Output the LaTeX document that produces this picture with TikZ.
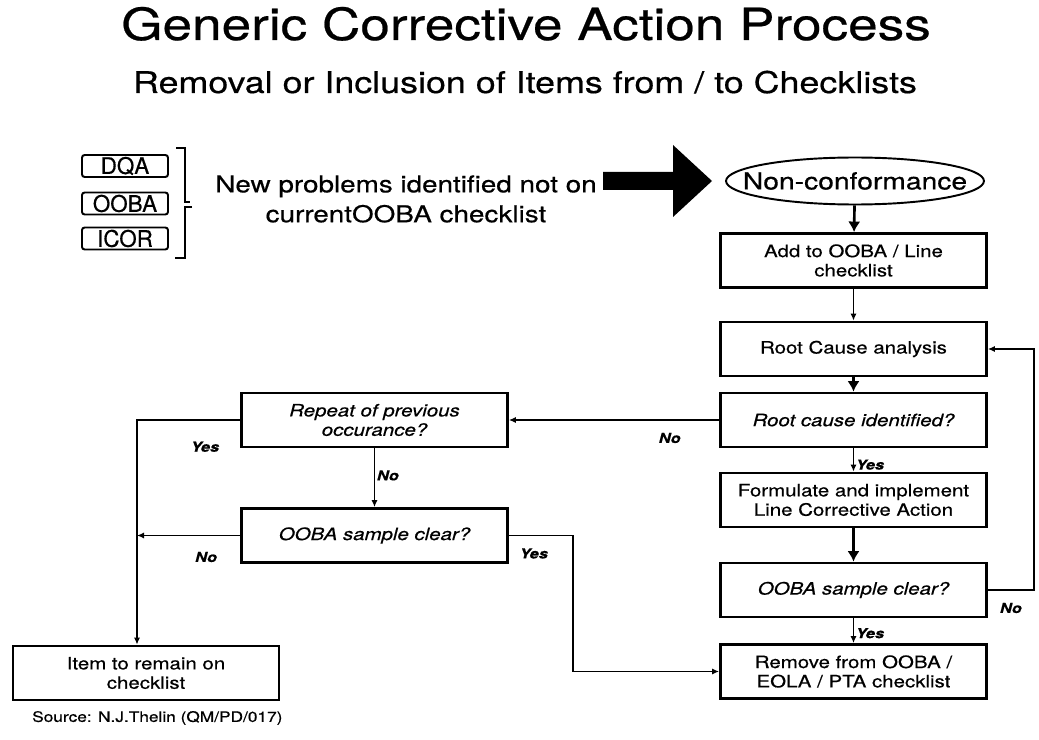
\documentclass[tikz,border=0pt]{standalone}
\usepackage{fontspec}
\setmainfont{TeX Gyre Heros}[FakeStretch=1.2, FakeBold=0.5]
\newfontfamily\tagfont{TeX Gyre Heros}[FakeStretch=0.98, FakeBold=0.5]
\usetikzlibrary{arrows.meta, shapes.geometric}

\tikzset{
  stepbox/.style={draw, line width=1.6pt, minimum width=5.32cm, minimum height=1.08cm,
    align=center, inner sep=2pt, font=\fontsize{9.7}{11}\selectfont},
  askbox/.style={stepbox, font=\fontsize{9.7}{11}\selectfont\itshape},
  tagbox/.style={draw, line width=1.1pt, rounded corners=1.5pt, minimum width=1.72cm,
    minimum height=0.44cm, inner sep=0pt, font=\tagfont\fontsize{13}{13}\selectfont},
  conn/.style={line width=0.75pt, -{Latex[length=4pt,width=3.5pt]}},
  bigconn/.style={line width=1.5pt, -{Latex[length=6pt,width=7pt]}},
  answer/.style={font=\fontsize{7.8}{9}\selectfont\bfseries\itshape, inner sep=1pt},
}

\begin{document}
\begin{tikzpicture}[x=0.02cm, y=-0.02cm]
    \useasboundingbox (0,0) rectangle (1039,740);
    % Titel
    \node[anchor=base, font=\fontsize{25.2}{28}\selectfont] (title) at (526,40) {Generic Corrective Action Process};
    \node[anchor=base, font=\fontsize{17}{19}\selectfont] (subtitle) at (525,93) {Removal or Inclusion of Items from / to Checklists};

    % Quellen
    \node[tagbox] (dqa) at (125,166) {DQA};
    \node[tagbox] (ooba) at (125,203.5) {OOBA};
    \node[tagbox] (icor) at (125,238.5) {ICOR};
    \draw[line width=0.7pt] (176,148) -- (185,148) -- (185,202) -- (190,202);
    \draw[line width=0.7pt] (192,207) -- (185,207) -- (185,258) -- (175,258);
    \node[align=center, font=\fontsize{13.2}{17}\selectfont] (newprob) at (406,199) {New problems identified not on\\currentOOBA checklist};
    \fill (603,172) -- (673,172) -- (673,145) -- (712,181) -- (673,217) -- (673,190) -- (603,190) -- cycle;

    % rechte Spalte
    \node[ellipse, draw, line width=1.1pt, minimum width=5.16cm, minimum height=0.94cm, inner sep=0pt,
        font=\fontsize{13.4}{16}\selectfont] (nc) at (855,181) {\makebox[0pt]{Non-conformance}};
    \node[stepbox] (add) at (853.5,260.5) {Add to OOBA / Line\\checklist};
    \node[stepbox] (rca) at (853.5,349) {Root Cause analysis};
    \node[askbox] (rci) at (853.5,420) {Root cause identified?};
    \node[stepbox] (form) at (853.5,500) {Formulate and implement\\Line Corrective Action};
    \node[askbox] (oobr) at (853.5,590) {OOBA sample clear?};
    \node[stepbox] (remove) at (853.5,671.5) {Remove from OOBA /\\EOLA / PTA checklist};

    % linke Spalte
    \node[askbox] (rep) at (374.5,420) {Repeat of previous\\occurance?};
    \node[askbox] (oobl) at (374.5,535.5) {OOBA sample clear?};
    \node[stepbox] (item) at (146,673) {Item to remain on\\checklist};
    \coordinate (rail) at (137,535.5);

    % Verbindungen
    \draw[bigconn] (nc) -- (add);
    \draw[conn] (add) -- (rca);
    \draw[bigconn] (rca) -- (rci);
    \draw[conn] (rci) -- node[answer, anchor=west, pos=0.7] {Yes} (form);
    \draw[bigconn] (form) -- (oobr);
    \draw[conn] (oobr) -- node[answer, anchor=west, pos=0.6] {Yes} (remove);
    \draw[conn] (oobr.east) -- node[answer, below=6pt] {No} ++(46,0) |- (rca.east);
    \draw[conn] (rci.west) -- node[answer, below=6pt, pos=0.235] {No} (rep.east);
    \draw[conn] (rep.west) -| node[answer, below=11pt, pos=0.17] {Yes} ([xshift=-0.18cm]item.north);
    \draw[conn] (rep) -- node[answer, right, pos=0.46] {No} (oobl);
    \draw[conn] (oobl.west) -- node[answer, below=8pt, pos=0.33] {No} (rail);
    \draw[conn] (oobl.east) -- node[answer, below=6pt, pos=0.39] {Yes} ++(64,0) |- (remove.west);

    \node[anchor=west, font=\fontsize{8.2}{9}\selectfont] (source) at (26,718) {Source: N.J.Thelin (QM/PD/017)};
\end{tikzpicture}
\end{document}
